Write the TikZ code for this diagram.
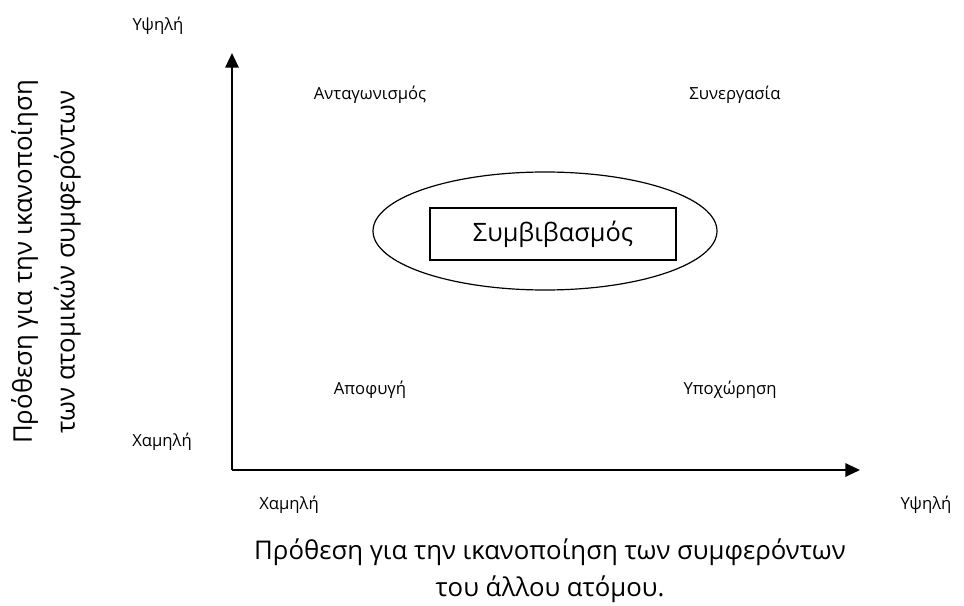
\documentclass[tikz,border=0pt]{standalone}
\usepackage{fontspec}
\setmainfont{Open Sans}
\usetikzlibrary{shapes.geometric,arrows.meta}

\begin{document}
\begin{tikzpicture}[x=0.75pt,y=-0.75pt,
    lbl/.style={font=\fontsize{12.5}{15}\selectfont, inner sep=0pt},
    axistitle/.style={font=\fontsize{19.3}{28}\selectfont, align=center, inner sep=0pt},
    axisline/.style={line width=1.5pt, -{Triangle[length=11pt,width=10pt]}}]
    % Frame
    \useasboundingbox (0,0) rectangle (964,606);

    % Axes
    \coordinate (origin) at (232,470);
    \coordinate (ytip) at (232,53);
    \coordinate (xtip) at (860,470);
    \draw[axisline] (origin) -- (ytip);
    \draw[axisline] (origin) -- (xtip);

    % Axis ends
    \node[lbl] (yhigh) at (158,26) {Υψηλή};
    \node[lbl] (ylow) at (162,442) {Χαμηλή};
    \node[lbl] (xlow) at (289,505) {Χαμηλή};
    \node[lbl] (xhigh) at (926,505) {Υψηλή};

    % Axis titles
    \node[axistitle, rotate=90, font=\fontsize{19.3}{32}\selectfont] (ytitle) at (46,262)
        {Πρόθεση για την ικανοποίηση\\των ατομικών συμφερόντων};
    \node[axistitle] (xtitle) at (550,571)
        {Πρόθεση για την ικανοποίηση των συμφερόντων\\του άλλου ατόμου.};

    % Quadrants
    \node[lbl] (compete) at (370,95) {Ανταγωνισμός};
    \node[lbl] (collab) at (735,95) {Συνεργασία};
    \node[lbl] (avoid) at (370,390) {Αποφυγή};
    \node[lbl] (yield) at (730,390) {Υποχώρηση};

    % Middle
    \node[ellipse, draw, line width=0.9pt, minimum width=344*0.75pt, minimum height=118*0.75pt] (ring) at (545,231) {};
    \node[draw, line width=0.9pt, minimum width=246*0.75pt, minimum height=52*0.75pt,
        font=\fontsize{19}{22}\selectfont] (deal) at (553,234) {Συμβιβασμός};
\end{tikzpicture}
\end{document}
